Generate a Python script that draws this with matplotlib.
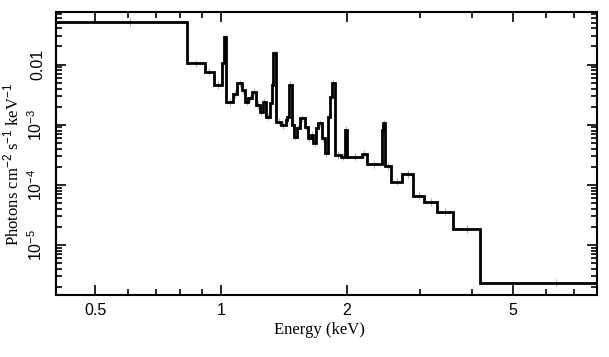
import matplotlib
matplotlib.use("Agg")
import matplotlib.pyplot as plt
import numpy as np
from matplotlib.ticker import FixedLocator, NullFormatter, LogLocator

# bin edges (keV) and model flux (photons cm^-2 s^-1 keV^-1)
bin_edges = [
    0.38, 0.829, 0.915, 0.962, 1.004, 1.018, 1.030, 1.070, 1.096, 1.123,
    1.141, 1.164, 1.186, 1.213, 1.240, 1.261, 1.282, 1.310, 1.323, 1.334,
    1.359, 1.392, 1.431, 1.444, 1.457, 1.477, 1.496, 1.521, 1.546, 1.589,
    1.616, 1.643, 1.665, 1.689, 1.707, 1.746, 1.774, 1.804, 1.829, 1.845,
    1.872, 1.941, 1.982, 2.009, 2.173, 2.233, 2.426, 2.447, 2.470, 2.561,
    2.708, 2.891, 3.068, 3.299, 3.600, 4.172, 8.5,
]
flux = [
    0.0508, 0.0105, 0.0076, 0.00456, 0.0105, 0.0283, 0.00238, 0.00324, 0.00488, 0.00377,
    0.00241, 0.00274, 0.00353, 0.00212, 0.00164, 0.00238, 0.00136, 0.00229, 0.00456, 0.01535,
    0.00112, 0.00099, 0.0012, 0.00136, 0.00466, 0.00099, 0.000632, 0.00087, 0.00128, 0.000927,
    0.000594, 0.000675, 0.000491, 0.000871, 0.00105, 0.000594, 0.000335, 0.00136, 0.00292, 0.00488,
    0.000314, 0.000294, 0.000817, 0.000294, 0.000326, 0.00022, 0.000817, 0.00105, 0.000206, 0.000113,
    0.000152, 6.62e-5, 5.2e-5, 3.59e-5, 1.85e-5, 2.37e-6,
]
x_ticks = [0.5, 1, 2, 5]
x_ticklabels = ["0.5", "1", "2", "5"]
y_ticks = [1e-5, 1e-4, 1e-3, 1e-2]
y_ticklabels = [r"$10^{-5}$", r"$10^{-4}$", r"$10^{-3}$", "0.01"]

plt.rcParams["mathtext.fontset"] = "custom"
plt.rcParams["mathtext.rm"] = "Liberation Sans"
plt.rcParams["mathtext.it"] = "Liberation Sans:italic"

fig = plt.figure(figsize=(6.09, 3.57), dpi=100)
ax = fig.add_axes([0.092, 0.174, 0.888, 0.792])

edges = np.array(bin_edges)
vals = np.array(flux)
centers = 0.5 * (edges[:-1] + edges[1:])

# faint data points with error bars
ax.errorbar(centers, vals, yerr=[vals * 0.13, vals * 0.15], fmt="none",
            ecolor="#b0b0b0", elinewidth=0.8, capsize=0, zorder=1)

ax.stairs(vals, edges, color="black", linewidth=2.0, baseline=None, zorder=2)

ax.set_xscale("log")
ax.set_yscale("log")
ax.set_xlim(0.403, 7.95)
ax.set_ylim(1.48e-6, 0.0745)

ax.xaxis.set_major_locator(FixedLocator(x_ticks))
ax.set_xticklabels(x_ticklabels, fontfamily="Liberation Sans", fontsize=11.5)
ax.xaxis.set_minor_locator(FixedLocator([0.6, 0.7, 0.8, 0.9, 3, 4, 6, 7]))
ax.xaxis.set_minor_formatter(NullFormatter())

ax.yaxis.set_major_locator(FixedLocator(y_ticks))
ax.set_yticklabels(y_ticklabels, fontfamily="Liberation Sans", fontsize=11.5,
                   rotation=90, va="center")
ax.yaxis.set_minor_locator(LogLocator(base=10, subs=np.arange(2, 10)))
ax.yaxis.set_minor_formatter(NullFormatter())

ax.tick_params(which="both", direction="in", top=True, right=True, width=1.2)
ax.tick_params(which="major", length=7)
ax.tick_params(axis="x", which="major", pad=6)
ax.tick_params(axis="y", which="major", pad=8)
ax.tick_params(which="minor", length=4)
for s in ax.spines.values():
    s.set_linewidth(1.5)

ax.set_xlabel("Energy (keV)", fontfamily="Liberation Serif", fontsize=12, labelpad=2)
ax.xaxis.set_label_coords(0.488, -0.095)
ax.set_ylabel(r"Photons cm$^{-2}$ s$^{-1}$ keV$^{-1}$", fontfamily="Liberation Serif",
              fontsize=12)
ax.yaxis.set_label_coords(-0.062, 0.463)

fig.savefig("out.png", dpi=100)
plt.close(fig)
